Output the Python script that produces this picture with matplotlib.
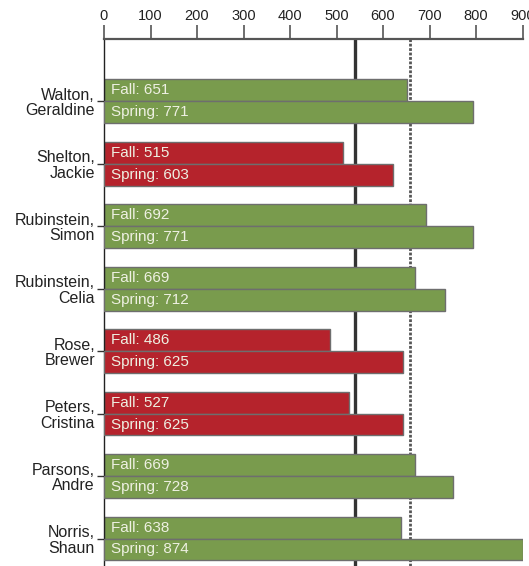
import numpy as np
import matplotlib.pyplot as plt

plt.rcParams['font.family'] = ['Liberation Sans', 'DejaVu Sans']

names = ['Walton,\nGeraldine', 'Shelton,\nJackie', 'Rubinstein,\nSimon', 'Rubinstein,\nCelia',
         'Rose,\nBrewer', 'Peters,\nCristina', 'Parsons,\nAndre', 'Norris,\nShaun']
fall = [651, 515, 692, 669, 486, 527, 669, 638]
spring = [771, 603, 771, 712, 625, 625, 728, 874]
on_track = [True, False, True, True, False, False, True, True]
benchmark_solid = 540
benchmark_dotted = 659
xticks = [0, 100, 200, 300, 400, 500, 600, 700, 800, 900]

green = '#799b4d'
red = '#b5232c'
edge = '#6e6e6e'
txt = '#eef0e2'

fig = plt.figure(figsize=(5.29, 5.66), dpi=100)
ax = fig.add_axes([104 / 529, 0, 418.5 / 529, 1 - 38.8 / 566])
ax2 = ax.twiny()

y = np.arange(len(names))
h = 0.35
colors = [green if ok else red for ok in on_track]

ax.axvline(benchmark_solid, color='#333333', lw=2.4, zorder=1)
ax.axvline(benchmark_dotted, color='#555555', lw=2, ls=(0, (1, 0.6)), zorder=1)

ax.barh(y - h / 2, fall, height=h, color=colors, edgecolor=edge, lw=1, zorder=2)
# spring series sits on its own scale that ends at its maximum
ax2.barh(y + h / 2, spring, height=h, color=colors, edgecolor=edge, lw=1, zorder=2)

for i in range(len(names)):
    ax.annotate(f'Fall: {fall[i]}', xy=(0, y[i] - h / 2), xytext=(5, 0),
                textcoords='offset points', va='center', ha='left',
                color=txt, fontsize=11, zorder=5)
    ax2.annotate(f'Spring: {spring[i]}', xy=(0, y[i] + h / 2), xytext=(5, 0),
                 textcoords='offset points', va='center', ha='left',
                 color=txt, fontsize=11, zorder=5)

ax.set_xlim(0, 900)
ax2.set_xlim(0, max(spring))
ax.set_ylim(7.44, -1)

ax.xaxis.tick_top()
ax.set_xticks(xticks)
ax.tick_params(axis='x', direction='out', length=10, width=1.2, color='#555555',
               labelsize=10.5, pad=1.5, labelcolor='#222222')
ax.set_yticks(y)
ax.set_yticklabels(names, fontsize=11.5, color='#222222', linespacing=1.05)
ax.tick_params(axis='y', direction='out', length=5, width=1, color='#333333', pad=1.5)

for s in ['right', 'bottom']:
    ax.spines[s].set_visible(False)
ax.spines['top'].set_color('#555555')
ax.spines['top'].set_linewidth(1.6)
ax.spines['left'].set_color('#222222')
ax.spines['left'].set_linewidth(1)

ax2.set_xticks([])
for s in ax2.spines.values():
    s.set_visible(False)

fig.savefig('out.png', dpi=100)
